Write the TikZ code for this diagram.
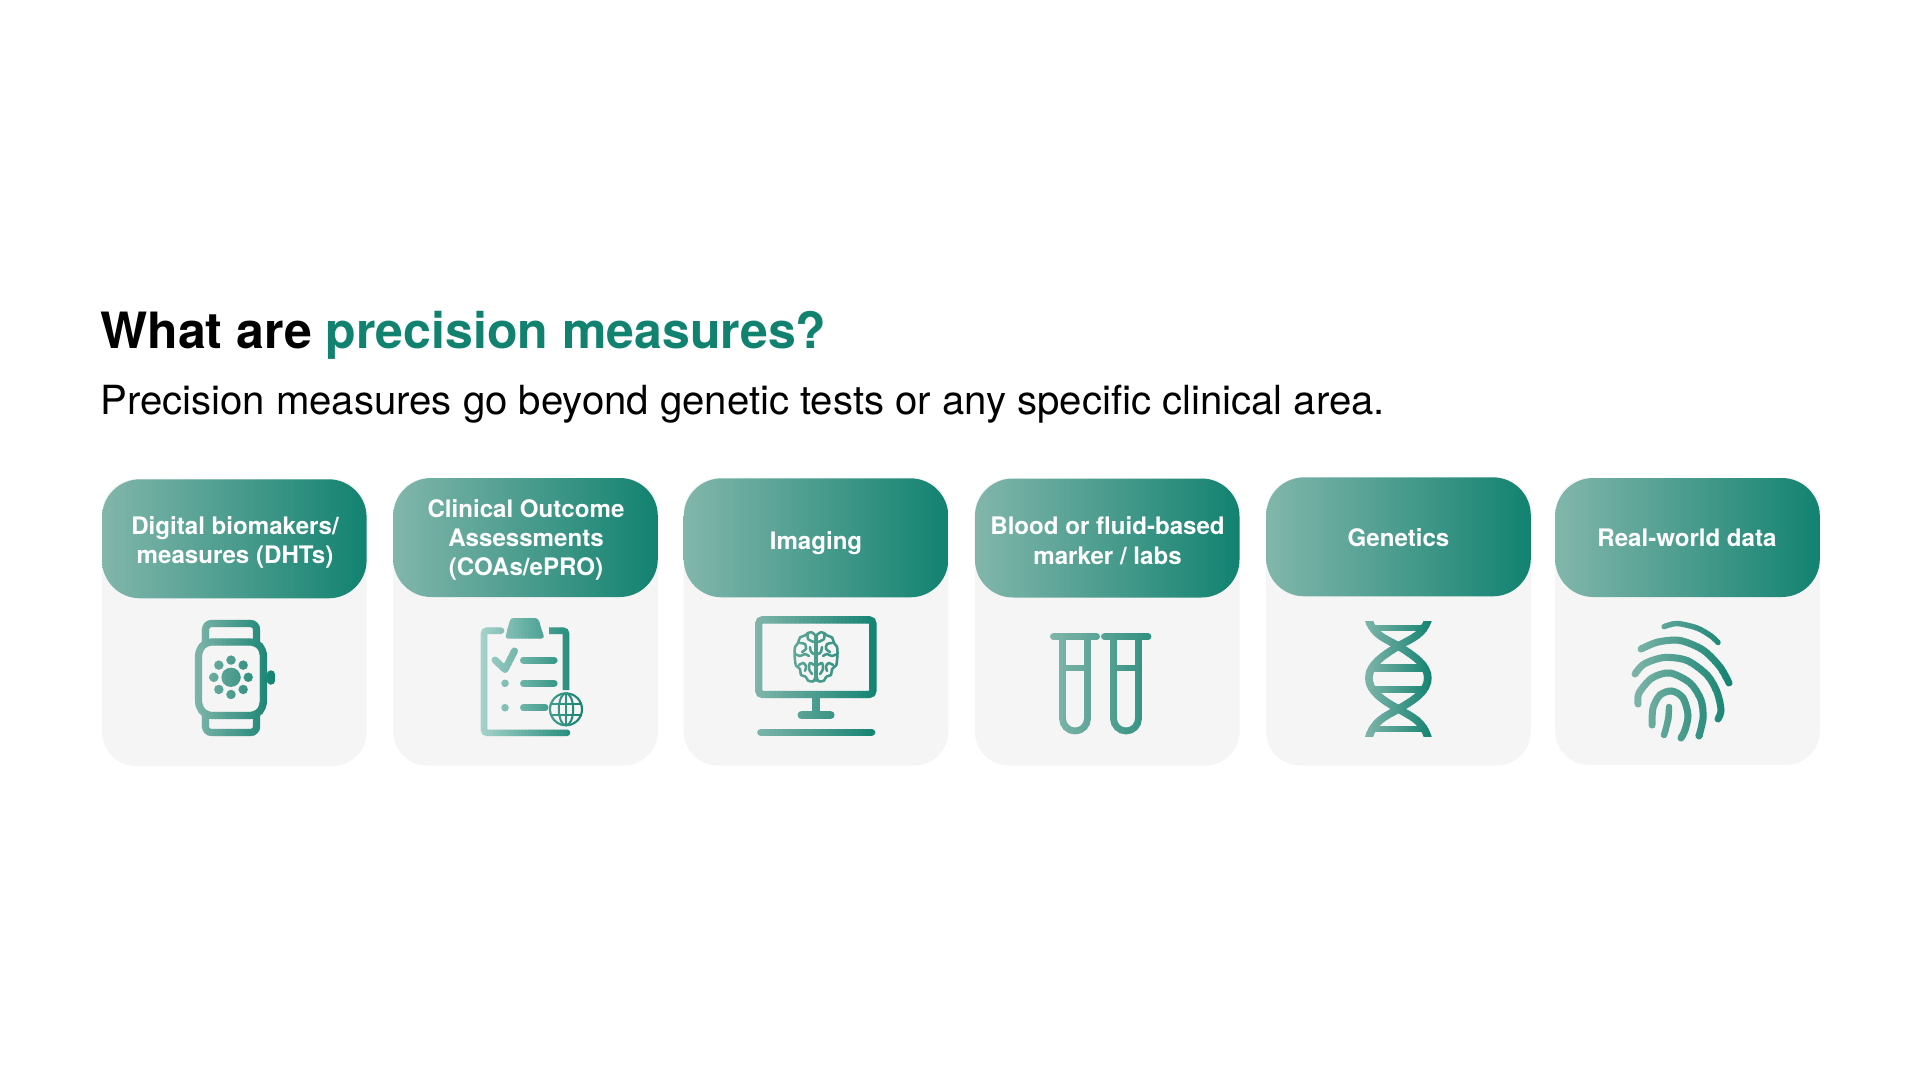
\documentclass[tikz,border=0pt]{standalone}
\usepackage{fontspec}
\setmainfont{TeX Gyre Heros}
\definecolor{cardgrey}{RGB}{245,245,245}
\definecolor{headlight}{RGB}{130,182,171}
\definecolor{headdark}{RGB}{18,130,112}
\definecolor{cliplight}{RGB}{170,212,205}
\tikzset{
	cardbox/.style={fill=cardgrey,rounded corners=17pt,minimum width=132.3pt,minimum height=143.5pt,inner sep=0pt},
	headbox/.style={left color=headlight,right color=headdark,rounded corners=19pt,minimum width=132.3pt,minimum height=59.5pt,inner sep=0pt},
	headlabel/.style={inner sep=0pt,text=white,align=center,font=\fontsize{12.05}{14.7}\selectfont\bfseries},
	pxgrid/.style={x=0.5pt,y=-0.5pt},
}
% vertical bands, light on the left and dark on the right
\newcommand{\iconbands}[6]{
	\foreach \band in {1,...,30}{
		\pgfmathsetmacro{\bandl}{#2+(#3-#2)*(\band-1)/30}
		\pgfmathsetmacro{\bandr}{#2+(#3-#2)*\band/30+0.5}
		\pgfmathsetmacro{\bandpct}{100*(\band-0.5)/30}
		\colorlet{bandink}{headdark!\bandpct!#1}
		\begin{scope}[color=bandink]
			\clip (\bandl,#4) rectangle (\bandr,#5);
			#6
		\end{scope}
	}
}
\newcommand{\watchicon}{
	\draw[line width=3.6pt,rounded corners=3pt] (205.5,642) -- (205.5,623.5) -- (256.5,623.5) -- (256.5,642);
	\draw[line width=3.6pt,rounded corners=3pt] (205.5,714) -- (205.5,732.5) -- (256.5,732.5) -- (256.5,714);
	\draw[line width=3.6pt,rounded corners=3pt] (206,642) -- (256,642) -- (263.5,650) -- (263.5,707) -- (256,715.5) -- (206,715.5) -- (198.5,707) -- (198.5,650) -- cycle;
	\draw[line width=3.6pt,line cap=round] (271,674) -- (271,681);
	\fill (231,677.3) circle (4.8pt);
	\foreach \a in {0,45,...,315}
		\fill (231,677.3) ++(\a:8.6pt) circle (2.35pt);
}
\newcommand{\clipicon}{
	\draw[line width=3.3pt,line cap=round,rounded corners=1.5pt] (501,630.7) -- (484,630.7) -- (484,732.8) -- (567,732.8);
	\draw[line width=3.3pt,rounded corners=1.5pt] (549,630.7) -- (566,630.7) -- (566,690);
	\fill[rounded corners=1.5pt] (510.5,618) -- (538,618) -- (544.5,638.5) -- (505,638.5) -- cycle;
	\draw[line width=3.5pt,line cap=round,line join=round] (495,660) -- (505,669.5) -- (514.5,651);
	\draw[line width=3.5pt,line cap=round] (523.5,660) -- (554,660);
	\draw[line width=3.5pt,line cap=round] (523.5,683.3) -- (554,683.3);
	\draw[line width=3.5pt,line cap=round] (523.5,707.7) -- (545,707.7);
	\fill (505,683.3) circle (1.9pt);
	\fill (505,707.7) circle (1.9pt);
	\draw[line width=1.05pt] (566,709.3) circle (8pt);
	\draw[line width=1pt] (566,709.3) ellipse (3.6pt and 8pt);
	\draw[line width=1pt] (566,693.3) -- (566,725.3);
	\draw[line width=1pt] (552,704) -- (580,704);
	\draw[line width=1pt] (552,714.6) -- (580,714.6);
}
\newcommand{\monitoricon}{
	\draw[line width=3.7pt,rounded corners=2pt] (758.7,619.8) rectangle (872.9,694.5);
	\draw[line width=3.6pt] (816,696) -- (816,714);
	\draw[line width=4pt,line cap=round] (801.5,715) -- (830.5,715);
	\draw[line width=3.8pt,line cap=round] (761,732.3) -- (871.5,732.3);
	\foreach \s in {1,-1}{
		\begin{scope}[shift={(816,657)},xscale=\s,line width=1.25pt,line join=round,line cap=round]
			\draw plot[smooth,tension=0.6] coordinates {(-1,-22) (-4,-24.5) (-8,-24) (-11,-21.5) (-16,-19.5) (-18,-14) (-21,-10) (-21.5,-3.5) (-21,3) (-20,8.5) (-16,12) (-15,18) (-10.5,19.5) (-8,23.5) (-3,24.5) (-1,21)};
			\draw (-1,-22) -- (-1,24);
			\draw plot[smooth] coordinates {(-8,-24) (-8,-18) (-2,-15)};
			\draw plot[smooth] coordinates {(-16,-14) (-11,-13) (-10,-8) (-14,-5)};
			\draw plot[smooth] coordinates {(-21,-3) (-16,-1) (-11,-3) (-7,-1)};
			\draw plot[smooth] coordinates {(-6,-10) (-5,-5) (-2,-3)};
			\draw plot[smooth] coordinates {(-17,8) (-13,6) (-10,9) (-11,14)};
			\draw plot[smooth] coordinates {(-2,8) (-6,6) (-7,12) (-4,17)};
		\end{scope}
	}
}
\newcommand{\tubesicon}{
	\draw[line width=3.4pt,line cap=round] (1053.4,636.7) -- (1096.6,636.7);
	\draw[line width=3.4pt,line cap=round] (1104.4,636.7) -- (1148,636.7);
	\draw[line width=3.4pt] (1062.5,637) -- (1062.5,718.5) arc[start angle=180,end angle=360,radius=6.25pt] -- (1087.5,637);
	\draw[line width=3.4pt] (1113.5,637) -- (1113.5,718.5) arc[start angle=180,end angle=360,radius=6.25pt] -- (1138.5,637);
	\draw[line width=3pt] (1062.5,668) -- (1087.5,668);
	\draw[line width=3pt] (1113.5,668) -- (1138.5,668);
}
\newcommand{\helixicon}{
	\foreach \s in {1,-1}{
		\begin{scope}[shift={(1398.3,679)},xscale=\s]
			\draw[line width=3.8pt] (-30,-60) .. controls (-25,-44) and (-14,-41) .. (0,-33) .. controls (16,-23) and (29.5,-14) .. (29.5,-1) .. controls (29.5,12) and (16,21) .. (0,30) .. controls (-14,38) and (-25,42) .. (-30,60);
		\end{scope}
	}
	\draw[line width=2.6pt] (1375,628) -- (1422,628);
	\draw[line width=4pt] (1372,667.5) -- (1425,667.5);
	\draw[line width=3.6pt] (1372,689.7) -- (1425,689.7);
	\draw[line width=3pt] (1375,728.5) -- (1422,728.5);
}
\newcommand{\printicon}{
	\begin{scope}[line cap=round,line join=round]
		\draw[line width=2.7pt] plot[smooth] coordinates {(1664,626.7) (1677,623.5) (1697,628) (1711,636) (1718,642.5)};
		\draw[line width=3.5pt] plot[smooth] coordinates {(1641,649) (1658,642) (1680,640.5) (1703,650) (1720,667) (1729,683)};
		\draw[line width=3.5pt] plot[smooth] coordinates {(1635,674) (1644,664) (1664,657.5) (1687,660.5) (1707,675) (1717,692) (1721,710) (1718,719)};
		\draw[line width=3.5pt] plot[smooth] coordinates {(1638,704) (1639,693) (1652,678) (1670,673) (1690,683) (1701,700) (1703,718) (1699,736)};
		\draw[line width=3.5pt] plot[smooth] coordinates {(1652,725) (1653,708) (1660,695) (1672,691) (1683,698) (1688,715) (1685,730) (1681,738)};
		\draw[line width=3.2pt] plot[smooth] coordinates {(1669,707) (1668,720) (1664,735)};
	\end{scope}
}
\begin{document}
\begin{tikzpicture}[pxgrid]
	\useasboundingbox (0,0) rectangle (1920,1080);
	\node[anchor=base west,inner sep=0pt,font=\fontsize{25}{30}\selectfont\bfseries] (titletext) at (100,349) {What are \textcolor{headdark}{precision measures?}};
	\node[anchor=base west,inner sep=0pt,font=\fontsize{20.07}{24}\selectfont] (subtext) at (100,414) {Precision measures go beyond genetic tests or any specific clinical area.};
	% cards
	\node[cardbox] (card1) at (234.3,622.5) {};
	\node[cardbox] (card2) at (525.5,622) {};
	\node[cardbox] (card3) at (816,622) {};
	\node[cardbox] (card4) at (1107.2,622) {};
	\node[cardbox] (card5) at (1398.5,622) {};
	\node[cardbox] (card6) at (1687.5,621.5) {};
	% headers
	\node[headbox] (head1) at (234.3,538.8) {};
	\node[headbox] (head2) at (525.5,537.5) {};
	\node[headbox] (head3) at (816,537.8) {};
	\node[headbox] (head4) at (1107.2,538) {};
	\node[headbox] (head5) at (1398.5,536.8) {};
	\node[headbox] (head6) at (1687.5,537.5) {};
	\node[headlabel] (label1) at (235,542.5) {Digital biomakers/\\measures (DHTs)};
	\node[headlabel] (label2) at (526,540) {Clinical Outcome\\Assessments\\(COAs/ePRO)};
	\node[headlabel] (label3) at (816,542.8) {Imaging};
	\node[headlabel] (label4) at (1107.5,540.5) {Blood or fluid-based\\marker / labs};
	\node[headlabel] (label5) at (1398.5,538) {Genetics};
	\node[headlabel] (label6) at (1687,537.5) {Real-world data};
	% icons
	\iconbands{headlight}{193}{276}{615}{740}{\watchicon}
	\iconbands{cliplight}{479}{585}{615}{738}{\clipicon}
	\iconbands{headlight}{753}{879}{614}{738}{\monitoricon}
	\iconbands{headlight}{1049}{1190}{631}{736}{\tubesicon}
	\iconbands{headlight}{1364}{1433}{621.7}{736.7}{\helixicon}
	\iconbands{headlight}{1630}{1733}{620}{742}{\printicon}
\end{tikzpicture}
\end{document}
